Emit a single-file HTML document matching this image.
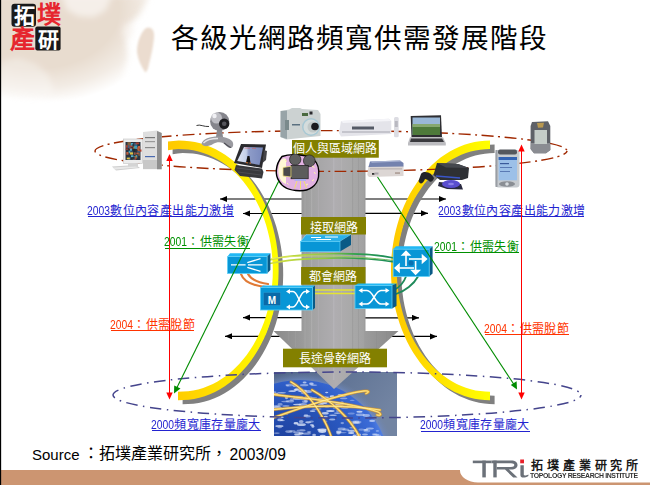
<!DOCTYPE html>
<html lang="zh-TW">
<head>
<meta charset="utf-8">
<style>
html,body{margin:0;padding:0;background:#fff;}
body{width:650px;height:485px;overflow:hidden;position:relative;font-family:"Liberation Sans",sans-serif;}
.a{position:absolute;white-space:nowrap;}
svg{position:absolute;left:0;top:0;}
.lbl{position:absolute;color:#fff;font-size:12px;line-height:12px;text-align:center;}
.t12{font-size:12px;line-height:12px;letter-spacing:0.35px;}
.d{display:inline-block;font-size:12.3px;transform:scaleX(0.84);transform-origin:0 0;margin-right:-4.2px;letter-spacing:0;}
</style>
</head>
<body>
<svg width="650" height="485" viewBox="0 0 650 485">
<defs>
  <radialGradient id="mapg" cx="0.35" cy="0.35" r="0.65">
    <stop offset="0" stop-color="#e4d2c0"/>
    <stop offset="0.55" stop-color="#ecdfd2"/>
    <stop offset="1" stop-color="#ffffff" stop-opacity="0"/>
  </radialGradient>
  <filter id="blur3" x="-20%" y="-20%" width="140%" height="140%"><feGaussianBlur stdDeviation="3"/></filter>
  <filter id="blur05"><feGaussianBlur stdDeviation="0.5"/></filter>
  <filter id="blur1"><feGaussianBlur stdDeviation="0.8"/></filter>
  <linearGradient id="fadeR" x1="0" y1="0" x2="1" y2="0">
    <stop offset="0" stop-color="#fff" stop-opacity="0"/>
    <stop offset="0.5" stop-color="#fff" stop-opacity="0.7"/>
    <stop offset="1" stop-color="#fff" stop-opacity="1"/>
  </linearGradient>
  <linearGradient id="fadeB" x1="0" y1="0" x2="0" y2="1">
    <stop offset="0" stop-color="#fff" stop-opacity="0"/>
    <stop offset="0.6" stop-color="#fff" stop-opacity="0.85"/>
    <stop offset="1" stop-color="#fff" stop-opacity="1"/>
  </linearGradient>
  <radialGradient id="mapfade" gradientUnits="userSpaceOnUse" cx="35" cy="10" r="140" gradientTransform="translate(35 10) scale(1 0.7) translate(-35 -10)">
    <stop offset="0" stop-color="#fff"/>
    <stop offset="0.6" stop-color="#fff"/>
    <stop offset="0.8" stop-color="#fff" stop-opacity="0.55"/>
    <stop offset="0.96" stop-color="#fff" stop-opacity="0"/>
  </radialGradient>
  <mask id="mapmask" maskUnits="userSpaceOnUse" x="0" y="0" width="200" height="150"><rect x="0" y="0" width="200" height="150" fill="url(#mapfade)"/></mask>
  <linearGradient id="yel" x1="0" y1="0" x2="1" y2="0">
    <stop offset="0" stop-color="#ffc800"/>
    <stop offset="1" stop-color="#ffff00"/>
  </linearGradient>
  <linearGradient id="col" gradientUnits="userSpaceOnUse" x1="273.5" y1="0" x2="398.5" y2="0">
    <stop offset="0" stop-color="#8a8a8a"/>
    <stop offset="0.22" stop-color="#999999"/>
    <stop offset="0.30" stop-color="#a2a2a2"/>
    <stop offset="0.40" stop-color="#a9a8aa"/>
    <stop offset="0.50" stop-color="#afadb0"/>
    <stop offset="0.62" stop-color="#a9a9a9"/>
    <stop offset="0.72" stop-color="#a2a2a2"/>
    <stop offset="0.73" stop-color="#9c9c9c"/>
    <stop offset="1" stop-color="#888888"/>
  </linearGradient>
  <linearGradient id="gbg" x1="0" y1="0" x2="1" y2="0.4">
    <stop offset="0" stop-color="#4f6488"/>
    <stop offset="1" stop-color="#7284a2"/>
  </linearGradient>
  <radialGradient id="glow" cx="0.5" cy="0.5" r="0.5">
    <stop offset="0.88" stop-color="#6f90d8"/>
    <stop offset="1" stop-color="#7084a8" stop-opacity="0"/>
  </radialGradient>
  <radialGradient id="gsea" cx="0.42" cy="0.42" r="0.6">
    <stop offset="0" stop-color="#1a3a94"/>
    <stop offset="0.6" stop-color="#2a58c0"/>
    <stop offset="0.85" stop-color="#3c6cd8"/>
    <stop offset="1" stop-color="#6a98f0"/>
  </radialGradient>
  <linearGradient id="cab" gradientUnits="userSpaceOnUse" x1="270" y1="0" x2="394" y2="0">
    <stop offset="0" stop-color="#d8e040"/>
    <stop offset="0.45" stop-color="#90c840"/>
    <stop offset="0.7" stop-color="#30a050"/>
    <stop offset="1" stop-color="#1a8a5a"/>
  </linearGradient>
  <linearGradient id="cab2" gradientUnits="userSpaceOnUse" x1="270" y1="0" x2="394" y2="0">
    <stop offset="0" stop-color="#f0f060"/>
    <stop offset="1" stop-color="#60b060"/>
  </linearGradient>
  <linearGradient id="fpscr" x1="0" y1="0" x2="1" y2="0">
    <stop offset="0" stop-color="#dfe6f4"/>
    <stop offset="0.35" stop-color="#c4cfe8"/>
    <stop offset="0.45" stop-color="#8e9cc8"/>
    <stop offset="1" stop-color="#7888bc"/>
  </linearGradient>
  <marker id="ab" markerWidth="8" markerHeight="8" refX="7" refY="3" orient="auto" markerUnits="userSpaceOnUse">
    <path d="M0,0 L7,3 L0,6 z" fill="#000"/>
  </marker>
</defs>

<!-- map background -->
<g id="map">
  <g mask="url(#mapmask)">
    <g filter="url(#blur3)">
      <path d="M-5,-5 L150,-5 L140,14 L130,24 L126,40 L128,58 L124,78 L116,92 L100,102 L70,102 L40,100 L10,98 L-5,96 Z" fill="#e8dccf"/>
      <path d="M62,-5 L112,-5 L106,10 L94,17 L78,16 L66,9 Z" fill="#f5efe9"/>
      <path d="M0,62 L18,58 L36,64 L48,74 L54,92 L40,97 L10,96 L0,95 Z" fill="#f0e8e0"/>
      <path d="M126,22 L134,28 L130,40 L122,34 Z" fill="#f6f0ea"/>
    </g>
  </g>
  <path d="M146,28 C151,26 155,30 154,38 C153,48 151,56 149,64 C148,70 146,73 145,72 C141,66 138,60 137,52 C137,42 141,32 146,28 Z" fill="#ebdccf" filter="url(#blur1)"/>
</g>

<!-- logo -->
<rect x="11.5" y="3.7" width="24.5" height="23" rx="3" fill="#1a1a1a"/>
<rect x="35.3" y="26.6" width="25.3" height="24" rx="2" fill="#1a1a1a"/>

<!-- black arrows (behind column) -->
<g stroke="#000" stroke-width="1.2" marker-end="url(#ab)">
  <line x1="302" y1="199" x2="220" y2="199"/>
  <line x1="302" y1="213.5" x2="243" y2="213.5"/>
  <line x1="302" y1="317.6" x2="243" y2="317.6"/>
  <line x1="285" y1="336.3" x2="225" y2="336.3"/>
  <line x1="364" y1="199" x2="446" y2="199"/>
  <line x1="364" y1="213.3" x2="428" y2="213.3"/>
  <line x1="364" y1="317.8" x2="419" y2="317.8"/>
  <line x1="385" y1="336.4" x2="437" y2="336.4"/>
</g>

<!-- yellow arcs -->
<g id="arcs">
  <path d="M168.0,141.6 L173.4,140.9 L178.7,140.6 L184.1,140.7 L189.5,141.2 L194.9,142.0 L200.2,143.3 L205.4,144.9 L210.6,146.9 L215.7,149.3 L220.6,152.0 L225.5,155.1 L230.2,158.5 L234.8,162.3 L239.2,166.4 L243.4,170.8 L247.4,175.6 L251.3,180.6 L254.9,185.8 L258.3,191.4 L261.5,197.1 L264.4,203.1 L267.0,209.3 L269.4,215.7 L271.6,222.2 L273.4,228.9 L275.0,235.7 L276.3,242.6 L277.3,249.6 L278.0,256.7 L278.5,263.8 L278.6,270.9 L278.4,278.0 L278.0,285.1 L277.2,292.2 L276.2,299.1 L274.8,306.0 L273.2,312.8 L271.3,319.5 L269.1,326.0 L266.7,332.4 L264.0,338.5 L261.0,344.5 L257.8,350.2 L254.4,355.7 L250.8,361.0 L246.9,365.9 L242.8,370.6 L238.6,375.0 L234.2,379.0 L229.6,382.8 L224.8,386.2 L220.0,389.2 L215.0,391.9 L209.9,394.2 L204.7,396.2 L199.4,397.7 L194.1,398.9 L188.8,399.7 L183.4,400.1 L178.0,400.2 L178.0,391.7 L183.1,391.6 L188.2,391.3 L193.2,390.5 L198.2,389.4 L203.2,388.0 L208.1,386.1 L212.9,384.0 L217.6,381.4 L222.2,378.6 L226.7,375.4 L231.0,371.9 L235.2,368.1 L239.2,364.0 L243.0,359.6 L246.7,354.9 L250.1,350.0 L253.3,344.9 L256.3,339.5 L259.1,333.9 L261.7,328.1 L264.0,322.2 L266.0,316.1 L267.8,309.8 L269.3,303.4 L270.6,297.0 L271.5,290.4 L272.2,283.8 L272.7,277.2 L272.8,270.5 L272.7,263.8 L272.2,257.2 L271.6,250.5 L270.6,244.0 L269.3,237.5 L267.8,231.2 L266.1,224.9 L264.0,218.8 L261.7,212.8 L259.2,207.0 L256.4,201.4 L253.4,196.1 L250.2,190.9 L246.7,186.0 L243.1,181.3 L239.3,176.9 L235.3,172.8 L231.1,169.0 L226.8,165.5 L222.3,162.3 L217.7,159.4 L213.0,156.9 L208.2,154.7 L203.3,152.9 L198.4,151.4 L193.3,150.3 L188.3,149.5 L183.2,149.2 L178.1,149.1 L173.1,149.5 L168.0,150.2 Z" fill="#808080" transform="translate(4.6,4)"/>
  <path d="M168.0,141.6 L173.4,140.9 L178.7,140.6 L184.1,140.7 L189.5,141.2 L194.9,142.0 L200.2,143.3 L205.4,144.9 L210.6,146.9 L215.7,149.3 L220.6,152.0 L225.5,155.1 L230.2,158.5 L234.8,162.3 L239.2,166.4 L243.4,170.8 L247.4,175.6 L251.3,180.6 L254.9,185.8 L258.3,191.4 L261.5,197.1 L264.4,203.1 L267.0,209.3 L269.4,215.7 L271.6,222.2 L273.4,228.9 L275.0,235.7 L276.3,242.6 L277.3,249.6 L278.0,256.7 L278.5,263.8 L278.6,270.9 L278.4,278.0 L278.0,285.1 L277.2,292.2 L276.2,299.1 L274.8,306.0 L273.2,312.8 L271.3,319.5 L269.1,326.0 L266.7,332.4 L264.0,338.5 L261.0,344.5 L257.8,350.2 L254.4,355.7 L250.8,361.0 L246.9,365.9 L242.8,370.6 L238.6,375.0 L234.2,379.0 L229.6,382.8 L224.8,386.2 L220.0,389.2 L215.0,391.9 L209.9,394.2 L204.7,396.2 L199.4,397.7 L194.1,398.9 L188.8,399.7 L183.4,400.1 L178.0,400.2 L178.0,391.7 L183.1,391.6 L188.2,391.3 L193.2,390.5 L198.2,389.4 L203.2,388.0 L208.1,386.1 L212.9,384.0 L217.6,381.4 L222.2,378.6 L226.7,375.4 L231.0,371.9 L235.2,368.1 L239.2,364.0 L243.0,359.6 L246.7,354.9 L250.1,350.0 L253.3,344.9 L256.3,339.5 L259.1,333.9 L261.7,328.1 L264.0,322.2 L266.0,316.1 L267.8,309.8 L269.3,303.4 L270.6,297.0 L271.5,290.4 L272.2,283.8 L272.7,277.2 L272.8,270.5 L272.7,263.8 L272.2,257.2 L271.6,250.5 L270.6,244.0 L269.3,237.5 L267.8,231.2 L266.1,224.9 L264.0,218.8 L261.7,212.8 L259.2,207.0 L256.4,201.4 L253.4,196.1 L250.2,190.9 L246.7,186.0 L243.1,181.3 L239.3,176.9 L235.3,172.8 L231.1,169.0 L226.8,165.5 L222.3,162.3 L217.7,159.4 L213.0,156.9 L208.2,154.7 L203.3,152.9 L198.4,151.4 L193.3,150.3 L188.3,149.5 L183.2,149.2 L178.1,149.1 L173.1,149.5 L168.0,150.2 Z" fill="url(#yel)"/>
  <path d="M490.0,140.6 L484.8,140.7 L479.7,141.2 L474.5,142.1 L469.5,143.2 L464.4,144.8 L459.5,146.7 L454.6,148.9 L449.8,151.5 L445.1,154.4 L440.6,157.6 L436.1,161.2 L431.9,165.0 L427.8,169.2 L423.8,173.6 L420.0,178.2 L416.5,183.2 L413.1,188.4 L409.9,193.8 L407.0,199.4 L404.3,205.2 L401.8,211.2 L399.6,217.3 L397.6,223.7 L395.9,230.1 L394.4,236.6 L393.2,243.3 L392.2,250.0 L391.5,256.8 L391.1,263.6 L391.0,270.4 L391.1,277.2 L391.5,284.0 L392.2,290.8 L393.2,297.5 L394.4,304.2 L395.9,310.7 L397.6,317.1 L399.6,323.5 L401.8,329.6 L404.3,335.6 L407.0,341.4 L409.9,347.0 L413.1,352.4 L416.5,357.6 L420.0,362.6 L423.8,367.2 L427.8,371.6 L431.9,375.8 L436.1,379.6 L440.6,383.2 L445.1,386.4 L449.8,389.3 L454.6,391.9 L459.5,394.1 L464.4,396.0 L469.5,397.6 L474.5,398.7 L479.7,399.6 L484.8,400.1 L490.0,400.2 L490.0,391.7 L485.1,391.6 L480.3,391.1 L475.5,390.4 L470.7,389.2 L465.9,387.8 L461.3,386.0 L456.7,383.9 L452.2,381.5 L447.8,378.8 L443.5,375.8 L439.3,372.5 L435.3,368.9 L431.4,365.0 L427.7,360.9 L424.1,356.5 L420.8,351.9 L417.6,347.1 L414.6,342.0 L411.9,336.8 L409.3,331.4 L407.0,325.7 L404.9,320.0 L403.0,314.1 L401.4,308.1 L400.0,302.0 L398.8,295.8 L398.0,289.5 L397.3,283.1 L396.9,276.8 L396.8,270.4 L396.9,264.0 L397.3,257.7 L398.0,251.3 L398.8,245.0 L400.0,238.8 L401.4,232.7 L403.0,226.7 L404.9,220.8 L407.0,215.1 L409.3,209.4 L411.9,204.0 L414.6,198.8 L417.6,193.7 L420.8,188.9 L424.1,184.3 L427.7,179.9 L431.4,175.8 L435.3,171.9 L439.3,168.3 L443.5,165.0 L447.8,162.0 L452.2,159.3 L456.7,156.9 L461.3,154.8 L465.9,153.0 L470.7,151.6 L475.5,150.4 L480.3,149.7 L485.1,149.2 L490.0,149.1 Z" fill="#808080" transform="translate(4.6,4)"/>
  <path d="M490.0,140.6 L484.8,140.7 L479.7,141.2 L474.5,142.1 L469.5,143.2 L464.4,144.8 L459.5,146.7 L454.6,148.9 L449.8,151.5 L445.1,154.4 L440.6,157.6 L436.1,161.2 L431.9,165.0 L427.8,169.2 L423.8,173.6 L420.0,178.2 L416.5,183.2 L413.1,188.4 L409.9,193.8 L407.0,199.4 L404.3,205.2 L401.8,211.2 L399.6,217.3 L397.6,223.7 L395.9,230.1 L394.4,236.6 L393.2,243.3 L392.2,250.0 L391.5,256.8 L391.1,263.6 L391.0,270.4 L391.1,277.2 L391.5,284.0 L392.2,290.8 L393.2,297.5 L394.4,304.2 L395.9,310.7 L397.6,317.1 L399.6,323.5 L401.8,329.6 L404.3,335.6 L407.0,341.4 L409.9,347.0 L413.1,352.4 L416.5,357.6 L420.0,362.6 L423.8,367.2 L427.8,371.6 L431.9,375.8 L436.1,379.6 L440.6,383.2 L445.1,386.4 L449.8,389.3 L454.6,391.9 L459.5,394.1 L464.4,396.0 L469.5,397.6 L474.5,398.7 L479.7,399.6 L484.8,400.1 L490.0,400.2 L490.0,391.7 L485.1,391.6 L480.3,391.1 L475.5,390.4 L470.7,389.2 L465.9,387.8 L461.3,386.0 L456.7,383.9 L452.2,381.5 L447.8,378.8 L443.5,375.8 L439.3,372.5 L435.3,368.9 L431.4,365.0 L427.7,360.9 L424.1,356.5 L420.8,351.9 L417.6,347.1 L414.6,342.0 L411.9,336.8 L409.3,331.4 L407.0,325.7 L404.9,320.0 L403.0,314.1 L401.4,308.1 L400.0,302.0 L398.8,295.8 L398.0,289.5 L397.3,283.1 L396.9,276.8 L396.8,270.4 L396.9,264.0 L397.3,257.7 L398.0,251.3 L398.8,245.0 L400.0,238.8 L401.4,232.7 L403.0,226.7 L404.9,220.8 L407.0,215.1 L409.3,209.4 L411.9,204.0 L414.6,198.8 L417.6,193.7 L420.8,188.9 L424.1,184.3 L427.7,179.9 L431.4,175.8 L435.3,171.9 L439.3,168.3 L443.5,165.0 L447.8,162.0 L452.2,159.3 L456.7,156.9 L461.3,154.8 L465.9,153.0 L470.7,151.6 L475.5,150.4 L480.3,149.7 L485.1,149.2 L490.0,149.1 Z" fill="url(#yel)"/>
</g>

<!-- globe image -->
<g id="globe">
  <clipPath id="gclip"><rect x="274" y="372" width="123" height="64"/></clipPath>
  <g clip-path="url(#gclip)">
    <rect x="274" y="372" width="123" height="64" fill="url(#gbg)"/>
    <circle cx="300" cy="470" r="98" fill="url(#glow)"/>
    <circle cx="300" cy="470" r="90" fill="url(#gsea)"/>
    <g fill="#dfe8fa" filter="url(#blur05)"><ellipse cx="313.8" cy="385.1" rx="3.5" ry="0.7" opacity="0.62"/><ellipse cx="285.2" cy="401.5" rx="4.0" ry="0.7" opacity="0.46"/><ellipse cx="351.2" cy="432.9" rx="3.2" ry="1.0" opacity="0.84"/><ellipse cx="279.7" cy="427.5" rx="2.4" ry="0.7" opacity="0.41"/><ellipse cx="311.9" cy="425.0" rx="2.0" ry="1.1" opacity="0.67"/><ellipse cx="319.8" cy="408.9" rx="1.7" ry="0.7" opacity="0.45"/><ellipse cx="312.6" cy="411.1" rx="2.9" ry="0.9" opacity="0.75"/><ellipse cx="344.7" cy="407.5" rx="4.1" ry="1.3" opacity="0.49"/><ellipse cx="325.4" cy="421.4" rx="2.0" ry="1.0" opacity="0.37"/><ellipse cx="356.2" cy="421.9" rx="3.2" ry="1.4" opacity="0.51"/><ellipse cx="359.5" cy="411.7" rx="3.2" ry="1.0" opacity="0.77"/><ellipse cx="360.3" cy="414.8" rx="4.5" ry="1.3" opacity="0.49"/><ellipse cx="321.5" cy="416.1" rx="1.6" ry="1.0" opacity="0.43"/><ellipse cx="304.5" cy="399.5" rx="4.1" ry="0.7" opacity="0.57"/><ellipse cx="341.6" cy="429.0" rx="4.0" ry="1.4" opacity="0.49"/><ellipse cx="325.1" cy="397.5" rx="4.2" ry="1.5" opacity="0.43"/><ellipse cx="295.7" cy="389.9" rx="2.2" ry="1.0" opacity="0.64"/><ellipse cx="325.5" cy="398.2" rx="3.2" ry="1.5" opacity="0.70"/><ellipse cx="337.4" cy="413.1" rx="3.5" ry="0.6" opacity="0.80"/><ellipse cx="369.9" cy="428.5" rx="3.9" ry="1.0" opacity="0.55"/><ellipse cx="286.7" cy="414.1" rx="1.7" ry="0.7" opacity="0.45"/><ellipse cx="294.0" cy="396.4" rx="1.7" ry="0.6" opacity="0.43"/><ellipse cx="286.5" cy="397.8" rx="1.6" ry="1.4" opacity="0.66"/><ellipse cx="292.3" cy="391.1" rx="2.5" ry="0.9" opacity="0.41"/><ellipse cx="378.4" cy="435.6" rx="2.9" ry="1.0" opacity="0.39"/><ellipse cx="286.6" cy="396.6" rx="2.3" ry="1.3" opacity="0.43"/><ellipse cx="276.8" cy="433.1" rx="3.1" ry="0.7" opacity="0.62"/><ellipse cx="277.3" cy="407.7" rx="4.4" ry="1.4" opacity="0.70"/><ellipse cx="306.1" cy="398.0" rx="2.0" ry="1.3" opacity="0.62"/><ellipse cx="301.4" cy="424.7" rx="4.5" ry="1.4" opacity="0.75"/><ellipse cx="301.9" cy="407.1" rx="2.6" ry="0.6" opacity="0.36"/><ellipse cx="308.4" cy="391.6" rx="3.6" ry="1.5" opacity="0.57"/><ellipse cx="301.1" cy="389.6" rx="2.1" ry="0.8" opacity="0.66"/><ellipse cx="333.0" cy="415.2" rx="3.9" ry="0.7" opacity="0.68"/><ellipse cx="296.0" cy="423.3" rx="2.5" ry="1.3" opacity="0.84"/><ellipse cx="322.7" cy="400.1" rx="4.3" ry="1.3" opacity="0.44"/><ellipse cx="289.6" cy="385.1" rx="4.2" ry="1.3" opacity="0.42"/><ellipse cx="375.7" cy="434.8" rx="3.5" ry="0.9" opacity="0.62"/><ellipse cx="338.8" cy="432.0" rx="2.8" ry="1.4" opacity="0.76"/><ellipse cx="300.0" cy="391.1" rx="2.4" ry="0.8" opacity="0.64"/><ellipse cx="305.9" cy="401.1" rx="1.9" ry="1.4" opacity="0.53"/><ellipse cx="330.4" cy="411.0" rx="4.2" ry="1.0" opacity="0.81"/><ellipse cx="335.7" cy="407.9" rx="3.1" ry="0.6" opacity="0.57"/><ellipse cx="332.2" cy="419.5" rx="3.2" ry="0.9" opacity="0.61"/><ellipse cx="342.3" cy="423.1" rx="1.8" ry="1.1" opacity="0.47"/><ellipse cx="308.1" cy="422.3" rx="3.0" ry="1.1" opacity="0.73"/><ellipse cx="349.3" cy="406.3" rx="3.0" ry="1.2" opacity="0.58"/><ellipse cx="339.6" cy="404.7" rx="4.3" ry="1.2" opacity="0.79"/><ellipse cx="342.8" cy="432.6" rx="4.0" ry="0.7" opacity="0.41"/><ellipse cx="356.3" cy="423.0" rx="4.2" ry="0.7" opacity="0.71"/><ellipse cx="301.0" cy="433.2" rx="2.7" ry="1.0" opacity="0.84"/><ellipse cx="327.1" cy="406.9" rx="2.5" ry="0.8" opacity="0.51"/><ellipse cx="342.1" cy="402.4" rx="1.6" ry="0.9" opacity="0.66"/><ellipse cx="289.9" cy="401.3" rx="4.2" ry="1.3" opacity="0.48"/><ellipse cx="292.4" cy="431.2" rx="3.2" ry="1.2" opacity="0.39"/><ellipse cx="281.1" cy="417.3" rx="2.8" ry="0.7" opacity="0.82"/><ellipse cx="352.0" cy="424.1" rx="1.8" ry="1.4" opacity="0.38"/><ellipse cx="315.7" cy="409.2" rx="4.3" ry="0.8" opacity="0.41"/><ellipse cx="287.5" cy="385.7" rx="1.7" ry="0.8" opacity="0.51"/><ellipse cx="311.5" cy="421.6" rx="2.4" ry="1.1" opacity="0.44"/><ellipse cx="297.3" cy="404.5" rx="4.3" ry="0.7" opacity="0.76"/><ellipse cx="327.2" cy="405.7" rx="4.0" ry="1.0" opacity="0.60"/><ellipse cx="358.6" cy="434.9" rx="2.5" ry="1.3" opacity="0.70"/><ellipse cx="352.2" cy="400.3" rx="2.5" ry="0.6" opacity="0.41"/><ellipse cx="282.7" cy="420.5" rx="2.3" ry="0.7" opacity="0.39"/><ellipse cx="303.8" cy="393.6" rx="2.9" ry="0.7" opacity="0.57"/><ellipse cx="306.4" cy="433.7" rx="4.4" ry="1.1" opacity="0.47"/><ellipse cx="320.9" cy="404.5" rx="3.0" ry="0.8" opacity="0.60"/><ellipse cx="274.6" cy="391.9" rx="1.8" ry="1.0" opacity="0.37"/><ellipse cx="276.8" cy="394.3" rx="2.2" ry="1.1" opacity="0.61"/><ellipse cx="366.3" cy="415.5" rx="3.6" ry="1.4" opacity="0.54"/><ellipse cx="314.1" cy="435.1" rx="1.9" ry="1.3" opacity="0.67"/><ellipse cx="279.4" cy="426.1" rx="4.2" ry="1.2" opacity="0.72"/><ellipse cx="338.4" cy="406.3" rx="4.0" ry="1.3" opacity="0.76"/><ellipse cx="345.8" cy="429.6" rx="3.5" ry="1.2" opacity="0.46"/><ellipse cx="351.2" cy="413.6" rx="3.5" ry="1.0" opacity="0.35"/><ellipse cx="372.1" cy="420.9" rx="3.0" ry="1.1" opacity="0.68"/><ellipse cx="282.1" cy="420.2" rx="2.3" ry="0.7" opacity="0.48"/><ellipse cx="365.0" cy="434.5" rx="3.0" ry="0.9" opacity="0.59"/><ellipse cx="358.1" cy="422.0" rx="3.4" ry="1.2" opacity="0.39"/><ellipse cx="292.1" cy="391.2" rx="3.7" ry="0.9" opacity="0.63"/><ellipse cx="307.1" cy="416.3" rx="3.6" ry="1.2" opacity="0.50"/><ellipse cx="337.5" cy="403.9" rx="2.9" ry="0.7" opacity="0.80"/><ellipse cx="298.5" cy="434.7" rx="4.3" ry="0.6" opacity="0.58"/><ellipse cx="374.8" cy="434.1" rx="2.8" ry="0.8" opacity="0.45"/><ellipse cx="338.5" cy="433.2" rx="1.9" ry="1.3" opacity="0.60"/><ellipse cx="302.5" cy="429.9" rx="3.0" ry="0.6" opacity="0.35"/><ellipse cx="334.5" cy="403.0" rx="2.4" ry="0.7" opacity="0.52"/><ellipse cx="312.9" cy="426.4" rx="1.5" ry="1.3" opacity="0.77"/><ellipse cx="288.8" cy="431.6" rx="3.6" ry="1.4" opacity="0.49"/><ellipse cx="319.8" cy="399.6" rx="4.5" ry="1.1" opacity="0.53"/><ellipse cx="326.7" cy="392.5" rx="1.6" ry="0.7" opacity="0.77"/><ellipse cx="309.1" cy="432.1" rx="2.2" ry="0.8" opacity="0.61"/><ellipse cx="297.4" cy="398.4" rx="4.4" ry="1.4" opacity="0.76"/><ellipse cx="351.6" cy="430.8" rx="4.3" ry="1.1" opacity="0.71"/><ellipse cx="280.1" cy="419.9" rx="2.9" ry="1.3" opacity="0.67"/><ellipse cx="332.1" cy="396.6" rx="2.4" ry="1.3" opacity="0.84"/><ellipse cx="306.0" cy="415.4" rx="2.4" ry="1.1" opacity="0.55"/><ellipse cx="294.6" cy="385.7" rx="2.1" ry="1.4" opacity="0.60"/><ellipse cx="301.1" cy="430.4" rx="4.5" ry="1.0" opacity="0.42"/><ellipse cx="303.4" cy="391.5" rx="3.2" ry="1.4" opacity="0.72"/><ellipse cx="324.8" cy="400.8" rx="3.1" ry="0.9" opacity="0.52"/><ellipse cx="281.6" cy="392.7" rx="4.4" ry="0.7" opacity="0.60"/><ellipse cx="351.4" cy="427.8" rx="2.1" ry="0.8" opacity="0.47"/><ellipse cx="323.2" cy="402.8" rx="4.4" ry="1.4" opacity="0.79"/><ellipse cx="361.3" cy="429.7" rx="2.9" ry="1.1" opacity="0.35"/><ellipse cx="322.2" cy="431.6" rx="4.0" ry="1.4" opacity="0.84"/><ellipse cx="304.6" cy="382.5" rx="2.0" ry="1.1" opacity="0.69"/><ellipse cx="353.6" cy="421.9" rx="2.9" ry="1.1" opacity="0.37"/><ellipse cx="311.4" cy="383.7" rx="2.3" ry="1.2" opacity="0.70"/><ellipse cx="338.5" cy="411.0" rx="2.7" ry="0.8" opacity="0.65"/><ellipse cx="275.3" cy="394.1" rx="2.9" ry="1.5" opacity="0.67"/><ellipse cx="302.9" cy="390.8" rx="4.4" ry="1.2" opacity="0.50"/><ellipse cx="276.7" cy="405.9" rx="3.5" ry="1.0" opacity="0.48"/><ellipse cx="356.1" cy="431.5" rx="2.2" ry="0.6" opacity="0.52"/><ellipse cx="325.7" cy="417.0" rx="2.1" ry="1.3" opacity="0.72"/><ellipse cx="301.2" cy="421.6" rx="2.4" ry="1.5" opacity="0.60"/><ellipse cx="297.0" cy="389.4" rx="2.8" ry="1.2" opacity="0.82"/><ellipse cx="292.0" cy="399.6" rx="2.1" ry="1.5" opacity="0.42"/><ellipse cx="322.4" cy="429.9" rx="4.2" ry="1.3" opacity="0.85"/><ellipse cx="296.8" cy="432.2" rx="3.7" ry="0.6" opacity="0.68"/><ellipse cx="320.6" cy="398.4" rx="2.5" ry="0.8" opacity="0.35"/><ellipse cx="308.4" cy="397.1" rx="4.4" ry="0.7" opacity="0.83"/><ellipse cx="299.5" cy="397.4" rx="4.0" ry="1.3" opacity="0.57"/><ellipse cx="280.1" cy="404.4" rx="2.6" ry="1.4" opacity="0.45"/><ellipse cx="318.8" cy="429.8" rx="1.6" ry="1.0" opacity="0.76"/><ellipse cx="365.9" cy="429.9" rx="2.5" ry="0.8" opacity="0.83"/><ellipse cx="366.9" cy="431.0" rx="3.4" ry="1.4" opacity="0.36"/><ellipse cx="302.8" cy="404.5" rx="4.4" ry="1.5" opacity="0.54"/><ellipse cx="304.9" cy="401.8" rx="3.0" ry="1.4" opacity="0.44"/><ellipse cx="313.3" cy="397.7" rx="3.8" ry="0.7" opacity="0.45"/><ellipse cx="342.0" cy="395.5" rx="4.4" ry="1.4" opacity="0.84"/><ellipse cx="285.9" cy="405.9" rx="3.6" ry="1.0" opacity="0.47"/><ellipse cx="325.3" cy="413.2" rx="3.5" ry="1.3" opacity="0.77"/><ellipse cx="343.7" cy="398.4" rx="3.7" ry="0.8" opacity="0.47"/><ellipse cx="304.2" cy="385.2" rx="4.2" ry="1.1" opacity="0.51"/><ellipse cx="322.7" cy="435.5" rx="3.0" ry="0.8" opacity="0.75"/><ellipse cx="354.4" cy="435.5" rx="1.8" ry="1.0" opacity="0.76"/><ellipse cx="377.4" cy="430.9" rx="1.6" ry="0.9" opacity="0.41"/><ellipse cx="297.3" cy="434.4" rx="3.2" ry="1.4" opacity="0.54"/></g>
    <g fill="none" stroke="#d89020" stroke-width="3.2" stroke-linecap="round" opacity="0.55"><path d="M291,382 C303,388 322,410 331,436"/><path d="M270,394 C300,398 350,402 378,412 C382,414 381,416 377,415"/><path d="M270,419 C300,408 340,394 364,391 C369,390.5 370,392 366,393.5"/><path d="M270,410 C310,405 350,405 380,410"/><path d="M312,390 C330,400 350,418 359,436"/></g>
    <g fill="none" stroke="#f4c040" stroke-width="1.8" stroke-linecap="round"><path d="M291,382 C303,388 322,410 331,436"/><path d="M270,394 C300,398 350,402 378,412 C382,414 381,416 377,415"/><path d="M270,419 C300,408 340,394 364,391 C369,390.5 370,392 366,393.5"/><path d="M270,410 C310,405 350,405 380,410"/><path d="M312,390 C330,400 350,418 359,436"/></g>
    <g fill="none" stroke="#fff4b0" stroke-width="0.7" stroke-linecap="round"><path d="M291,382 C303,388 322,410 331,436"/><path d="M270,394 C300,398 350,402 378,412 C382,414 381,416 377,415"/><path d="M270,419 C300,408 340,394 364,391 C369,390.5 370,392 366,393.5"/><path d="M270,410 C310,405 350,405 380,410"/><path d="M312,390 C330,400 350,418 359,436"/></g>
  </g>
</g>

<!-- gray column + arrowhead -->
<rect x="301.5" y="150" width="64" height="182" fill="url(#col)"/>
<path d="M273.5,331 L398.5,331 L334,389 Z" fill="url(#col)"/>
<g opacity="0.35">
  <rect x="304.5" y="150" width="1" height="200" fill="#b8b8b8"/>
  <rect x="311" y="150" width="1.2" height="210" fill="#c0c0c0"/>
  <rect x="318" y="150" width="1" height="220" fill="#b8b4ba"/>
  <rect x="333" y="150" width="1.5" height="230" fill="#c4c0c6"/>
  <rect x="341" y="150" width="1" height="220" fill="#bcbcbc"/>
  <rect x="352" y="150" width="1.2" height="210" fill="#8e8e8e"/>
  <rect x="358" y="150" width="1" height="200" fill="#929292"/>
  <rect x="288" y="331" width="1" height="10" fill="#a0a0a0"/>
  <rect x="295" y="331" width="1" height="16" fill="#a6a6a6"/>
  <rect x="376" y="331" width="1" height="18" fill="#8c8c8c"/>
  <rect x="386" y="331" width="1" height="10" fill="#8c8c8c"/>
</g>


<!-- label boxes -->
<g fill="#838000">
  <rect x="292" y="140" width="86.8" height="17.7"/>
  <rect x="301" y="217" width="65" height="17.5"/>
  <rect x="301.1" y="267" width="64.4" height="17.7"/>
  <rect x="283" y="348.7" width="104" height="18.6"/>
</g>
<!-- cables -->
<g fill="none" stroke-linecap="round">
  <path d="M241,274 C244,283 256,286 266,287" stroke="#e07a36" stroke-width="2.2"/>
  <path d="M248,274 C252,281 260,283 268,284" stroke="#e07a36" stroke-width="2.2"/>
  <path d="M270,260 C295,253 360,251 394,258" stroke="url(#cab)" stroke-width="1.7"/>
  <path d="M270,263.5 C300,257 360,256 394,262" stroke="url(#cab)" stroke-width="1.7"/>
  <path d="M271,258.5 C300,254.5 350,255 393,260.5" stroke="url(#cab2)" stroke-width="1"/>
  <path d="M406,276.5 C404,282 400,287 394,290" stroke="#1f8a5a" stroke-width="1.8"/>
  <path d="M418,276.5 C414,284 405,291 396,294" stroke="#1f8a5a" stroke-width="1.8"/>
  <path d="M315,290 L355,290" stroke="#e4e430" stroke-width="1.5"/>
  <path d="M315,293.5 L355,293.5" stroke="#e4e430" stroke-width="1.5"/>
</g>
<!-- network icons -->
<g id="hub">
  <path d="M230,253.2 L270.4,253.2 L267.1,256.6 L227.5,256.6 Z" fill="#22b8f4"/>
  <path d="M267.1,256.6 L270.4,253.2 L270.4,270 L267.1,273.5 Z" fill="#0a5a86"/>
  <rect x="227.5" y="256.6" width="39.6" height="16.9" fill="#0896d6" stroke="#5ccff8" stroke-width="0.8"/>
  <path d="M231,264.8 L245.6,264.8 M248,264.8 L262.5,264.8 M247.3,262.6 L260.5,258.6 M247.3,267.3 L260.5,271.4" stroke="#fff" stroke-width="1.3"/>
</g>
<g id="accsw">
  <path d="M306,234.8 L351,234.8 L340,241.6 L300.5,241.6 Z" fill="#2ab0ea" stroke="#8ee0ff" stroke-width="0.6"/>
  <path d="M340,241.6 L351,234.8 L351,245 L340,251.5 Z" fill="#0a5a86"/>
  <rect x="300.5" y="241.6" width="39.5" height="9.9" fill="#0896d6" stroke="#5ccff8" stroke-width="0.7"/>
  <path d="M311,237.5 L321,237.5 M325,237 L338,237 M316,239.5 L331,239.5" stroke="#fff" stroke-width="1.1"/>
</g>
<g id="router">
  <path d="M396,246.3 L432.6,246.3 L429.2,249.2 L393.2,249.2 Z" fill="#22b8f4"/>
  <path d="M429.2,249.2 L432.6,246.3 L432.6,273.5 L429.2,276.4 Z" fill="#0a5a86"/>
  <rect x="393.2" y="249.2" width="36" height="27.2" fill="#0896d6" stroke="#5ccff8" stroke-width="0.8"/>
  <g stroke="#fff" stroke-width="1.6" fill="#fff">
    <path d="M406,266 L406,254" /><path d="M402.5,255 L406,251.4 L409.5,255 Z"/>
    <path d="M409,259 L423.5,259"/><path d="M422.5,255.5 L426.4,259 L422.5,262.5 Z"/>
    <path d="M414,268 L398,268"/><path d="M399,264.5 L395.2,268 L399,271.5 Z"/>
    <path d="M415.6,261 L415.6,271"/><path d="M412.1,270.5 L415.6,274 L419.1,270.5 Z"/>
  </g>
  <circle cx="411" cy="263" r="2.6" fill="#0a70b0"/>
</g>
<g id="msw">
  <path d="M263,285.5 L315,285.5 L312.5,287.5 L260.5,287.5 Z" fill="#22b8f4"/>
  <path d="M312.5,287.5 L315,285.5 L315,308 L312.5,310 Z" fill="#0a5a86"/>
  <rect x="260.5" y="287.5" width="52" height="22.5" fill="#0896d6" stroke="#5ccff8" stroke-width="0.8"/>
  <rect x="263.5" y="292.5" width="17" height="13" fill="#0a6aa8" stroke="#4ab0e0" stroke-width="0.5" stroke-dasharray="1 1"/>
  <text x="272" y="303.5" font-family="Liberation Sans" font-weight="bold" font-size="10" fill="#fff" text-anchor="middle">M</text>
  <g stroke="#fff" stroke-width="1.5" fill="none">
    <path d="M288,291.5 L293,291.5 C298,291.5 300,307 305,307 L308,307"/>
    <path d="M288,307 L293,307 C298,307 300,291.5 305,291.5 L308,291.5"/>
  </g>
  <g fill="#fff">
    <path d="M286,291.5 L290,289 L290,294 Z"/><path d="M310,291.5 L306,289 L306,294 Z"/>
    <path d="M286,307 L290,304.5 L290,309.5 Z"/><path d="M310,307 L306,304.5 L306,309.5 Z"/>
  </g>
</g>
<g id="rsw">
  <path d="M358,283.5 L396.5,283.5 L392,285.5 L355,285.5 Z" fill="#22b8f4"/>
  <path d="M392,285.5 L396.5,283.5 L396.5,306 L392,308.5 Z" fill="#0a5a86"/>
  <rect x="355" y="285.5" width="37" height="23" fill="#0896d6" stroke="#5ccff8" stroke-width="0.8"/>
  <g stroke="#fff" stroke-width="1.5" fill="none">
    <path d="M361,290.5 L367,290.5 C373,290.5 375,304 381,304 L387,304"/>
    <path d="M361,304 L367,304 C373,304 375,290.5 381,290.5 L387,290.5"/>
  </g>
  <g fill="#fff">
    <path d="M358.5,290.5 L362.5,288 L362.5,293 Z"/><path d="M389.5,290.5 L385.5,288 L385.5,293 Z"/>
    <path d="M358.5,304 L362.5,301.5 L362.5,306.5 Z"/><path d="M389.5,304 L385.5,301.5 L385.5,306.5 Z"/>
  </g>
</g>

<!-- ellipses -->
<ellipse cx="331" cy="151" rx="236" ry="20.4" fill="none" stroke="#a02800" stroke-width="1.4" stroke-dasharray="12 4.5 2 4.5" stroke-dashoffset="6.85"/>
<ellipse cx="347" cy="395" rx="234" ry="23" fill="none" stroke="#44448c" stroke-width="1.5" stroke-dasharray="11.5 5.5 1.5 5.5" stroke-dashoffset="8.6"/>


<!-- devices -->
<g id="pc">
  <path d="M112,166.5 L136,165 L140,168 L116,170.5 Z" fill="#cfcfcf"/>
  <path d="M113,167.5 L136,166 L138,167.5 L115,169.5 Z" fill="#e8e8e8"/>
  <rect x="123.5" y="139" width="19" height="24.5" fill="#ececec" stroke="#c4c4c4" stroke-width="0.6"/>
  <rect x="125.5" y="142" width="15" height="18" fill="#2a3440"/>
  <rect x="128.6" y="150.7" width="1.9" height="2.5" fill="#3aa0c0"/><rect x="133.4" y="156.5" width="2.2" height="2.4" fill="#e0c040"/><rect x="138.4" y="149.5" width="3.1" height="2.2" fill="#b04030"/><rect x="128.5" y="144.4" width="3.3" height="2.0" fill="#d09030"/><rect x="134.2" y="143.0" width="2.9" height="2.5" fill="#406080"/><rect x="135.6" y="155.2" width="1.7" height="2.5" fill="#50b0d0"/><rect x="134.8" y="156.7" width="2.0" height="3.0" fill="#202830"/><rect x="138.0" y="144.1" width="1.9" height="1.1" fill="#202830"/><rect x="128.3" y="157.4" width="2.1" height="2.6" fill="#406080"/><rect x="131.0" y="155.3" width="2.4" height="2.3" fill="#50b0d0"/><rect x="133.1" y="156.5" width="2.7" height="3.3" fill="#406080"/><rect x="138.4" y="152.7" width="1.4" height="3.2" fill="#806040"/><rect x="137.3" y="151.1" width="2.8" height="1.5" fill="#406080"/><rect x="129.2" y="143.0" width="3.1" height="3.5" fill="#3aa0c0"/><rect x="130.0" y="143.1" width="3.2" height="1.1" fill="#50b0d0"/><rect x="135.5" y="156.0" width="1.1" height="2.5" fill="#d09030"/><rect x="130.4" y="151.4" width="2.4" height="3.3" fill="#406080"/><rect x="132.1" y="158.0" width="1.8" height="1.2" fill="#806040"/><rect x="125.9" y="145.2" width="2.0" height="2.5" fill="#b04030"/><rect x="134.5" y="157.7" width="1.8" height="1.9" fill="#b04030"/><rect x="137.2" y="148.0" width="2.2" height="2.3" fill="#806040"/><rect x="126.8" y="157.6" width="3.0" height="1.7" fill="#e0c040"/><rect x="137.7" y="149.0" width="1.6" height="1.8" fill="#c06040"/><rect x="125.6" y="148.6" width="2.4" height="1.1" fill="#b04030"/><rect x="126.3" y="152.0" width="2.2" height="2.7" fill="#c06040"/><rect x="133.4" y="146.5" width="2.2" height="2.5" fill="#d09030"/><rect x="138.0" y="146.0" width="2.1" height="2.5" fill="#c06040"/><rect x="127.8" y="145.0" width="2.9" height="3.1" fill="#406080"/><rect x="129.4" y="148.0" width="2.9" height="1.1" fill="#b04030"/><rect x="129.5" y="145.6" width="3.0" height="1.6" fill="#b04030"/><rect x="134.3" y="152.4" width="1.2" height="2.5" fill="#c06040"/><rect x="134.3" y="145.6" width="3.0" height="3.4" fill="#3aa0c0"/><rect x="129.9" y="152.4" width="3.2" height="2.1" fill="#e0c040"/><rect x="135.7" y="142.5" width="3.4" height="1.8" fill="#b04030"/><rect x="136.7" y="147.4" width="3.1" height="1.2" fill="#c06040"/><rect x="133.2" y="148.7" width="2.3" height="3.1" fill="#202830"/><rect x="130.0" y="148.7" width="2.0" height="2.0" fill="#50b0d0"/><rect x="127.5" y="142.1" width="3.4" height="3.2" fill="#806040"/><rect x="131.1" y="157.2" width="3.3" height="1.6" fill="#202830"/><rect x="136.4" y="152.6" width="2.3" height="1.7" fill="#c06040"/>
  <rect x="128" y="163.5" width="10" height="3" fill="#d4d4d4"/>
  <path d="M143,132 L157,130.5 L161.7,133 L161.7,169.3 L143,169.3 Z" fill="#dedede"/>
  <path d="M157,131 L161.7,133 L161.7,169.3 L157,169.3 Z" fill="#8e8e8e"/>
  <rect x="145" y="137" width="10" height="1.2" fill="#7a7a7a"/>
  <rect x="145" y="141" width="10" height="1.2" fill="#9a9a9a"/>
  <rect x="145" y="147" width="10" height="1.2" fill="#8a8a8a"/>
  <rect x="145" y="156" width="10" height="1.2" fill="#4a6ab0"/>
  <rect x="143" y="160" width="14" height="9" fill="#c8c8c8"/>
</g>
<g id="webcam">
  <path d="M196.5,125.5 C200,124 204,127 209,126.5" stroke="#222" stroke-width="0.9" fill="none"/>
  <path d="M217,130 L216,137 L223,137 L222,130 Z" fill="#8a8a90"/>
  <path d="M201.5,143.5 C203,139 210,136.5 218,136.5 C224,136.5 229,138 232,141 C234,143.5 233.5,147.5 231,148 C228,148.5 226,145 223,143 C220,141.5 216,142 213,144 C209,146.5 203,147.5 201.5,143.5 Z" fill="#9a9aa0"/>
  <path d="M203.5,143 C206,140 212,138.5 218,138.5" stroke="#e4e4e8" stroke-width="1.3" fill="none"/>
  <path d="M224,143 C227,145 229,147 231,147.5" stroke="#505058" stroke-width="1.2" fill="none"/>
  <circle cx="219.7" cy="121.5" r="9.6" fill="#85858c"/>
  <circle cx="216.5" cy="118" r="5.5" fill="#c4c4ca" opacity="0.9"/>
  <circle cx="214.5" cy="116" r="2.2" fill="#f0f0f4"/>
  <circle cx="224.2" cy="123.8" r="5.2" fill="#1c1c20"/>
  <circle cx="224.2" cy="123.8" r="2.3" fill="#55555c"/>
</g>
<g id="flatpanel">
  <path d="M236,165 L262,168.5 L263.5,172 L262,178.5 L240,176 L234.5,170 Z" fill="#38383c"/>
  <path d="M237,168 L261,171 M238,172 L261,175" stroke="#55555a" stroke-width="0.7"/>
  <path d="M241,144 L266,144.5 L262,168 L234,163 Z" fill="#2a2a2e"/>
  <path d="M244,147 L263,147.5 L259.5,165 L237.2,161 Z" fill="url(#fpscr)"/>
  <path d="M247.5,156 L249.5,156 L250.5,163 L246,162.5 Z" fill="#111"/>
  <path d="M246,162.5 L248,163 M249.5,163 L251,163.2" stroke="#e07020" stroke-width="0.9"/>
  <path d="M244.5,148 L250,148.2 M252,148.3 L256,148.4" stroke="#d06060" stroke-width="0.6"/>
  <path d="M264,150 L267,151 L266,160 L262.5,163 Z" fill="#444448"/>
</g>
<g id="digicam">
  <path d="M281,111 L289,109.5 L292,108 L300,108 L302,109 L318,110 L320.5,114 L320.5,136 L286,139.6 L280.5,137 Z" fill="#ccd2d2"/>
  <path d="M280.5,111 L287,110.5 L287,139 L280.5,137 Z" fill="#98a4a8"/>
  <rect x="285" y="120" width="4" height="10" fill="#7a8a8c"/>
  <circle cx="311" cy="127" r="9" fill="#a8c8d4"/>
  <circle cx="311" cy="127" r="7.5" fill="#d4dcdc"/>
  <circle cx="313" cy="127" r="5.5" fill="#c0c8c8"/>
  <circle cx="315" cy="126.5" r="3.8" fill="#1a1a1e"/>
  <rect x="302" y="113" width="6" height="3" fill="#4a6a40"/>
  <rect x="309.5" y="111.5" width="3" height="3" fill="#2a2a2e"/>
  <rect x="292" y="124" width="8" height="1.5" fill="#5a7080"/>
</g>
<g id="dvd">
  <path d="M341,121 L389,118.8 L391.3,121 L391.3,134 L341,136.4 L339,133 Z" fill="#e4e4ea"/>
  <path d="M341,121 L389,118.8 L391,121 L343,123 Z" fill="#f4f4f8"/>
  <rect x="352" y="126.5" width="22" height="3" fill="#555a66"/>
  <rect x="342" y="131" width="48" height="2" fill="#c4c4cc"/>
  <rect x="394" y="117" width="4.7" height="20.3" rx="1.5" fill="#dcdce2"/>
  <rect x="394.8" y="121" width="3" height="6" fill="#b8b8c0"/>
</g>
<g id="laptop">
  <path d="M410.7,116 L441,115.2 L442,137.3 L411.5,137.3 Z" fill="#2e2e32"/>
  <rect x="412.5" y="117.5" width="27.5" height="17.5" fill="#9ab8d8"/>
  <rect x="412.5" y="126" width="27.5" height="9" fill="#4e7a3a"/>
  <rect x="412.5" y="124" width="27.5" height="3" fill="#86a870"/>
  <path d="M410,137.3 L443,137.3 L445.8,143 L445.8,145.6 L408,145.6 L408,143 Z" fill="#bcbcc0"/>
  <path d="M411,138.5 L442,138.5 L444,142 L410,142 Z" fill="#3a3a3e"/>
</g>
<g id="filmcam">
  <path d="M282,156.5 C290,153.5 305,154 313,159 C318,163 319.5,170 318.5,177 C317,186 309,191 299.5,190.8 C290,190.5 282,187 279,181 C275,175 275,165 282,156.5 Z" fill="#e2b2e2" stroke="#000" stroke-width="1.4"/>
  <path d="M281,160 C283,158 285,158 286,159 L286,184 C283,183 280,180 279,176 C277.5,170 278.5,164 281,160 Z" fill="#fff8d6"/>
  <circle cx="295.2" cy="159.5" r="5.7" fill="#606060" stroke="#111" stroke-width="0.6"/>
  <circle cx="309.3" cy="160.8" r="5.9" fill="#606060" stroke="#111" stroke-width="0.6"/>
  <rect x="291" y="165.3" width="17.2" height="13.5" fill="#5c5c5c" stroke="#111" stroke-width="0.6"/>
  <path d="M283,167.5 L291,166.2 L291,177 L283,176 Z" fill="#4a4a4a" stroke="#f0e080" stroke-width="0.8"/>
  <rect x="294.5" y="179" width="11.5" height="1.8" fill="#a8b0f0"/>
  <path d="M297,181 L294.5,188.5 M300.5,181 L300.5,189 M304,181 L306.5,188" stroke="#f0e070" stroke-width="1"/>
  <g stroke="#fff7a8" stroke-width="1" fill="none">
    <path d="M285,160 l2,1.5 M312,166 l2.5,1.5 M314,172 l1.5,2 M312,181 l2,-1.5 M287,183 l1.5,1.5 M306,185 l2,-1"/>
  </g>
</g>
<g id="extdrive">
  <path d="M368.5,166 L403.5,166 L403.5,176 L369,177 L367.3,175 Z" fill="#dcd6d4"/>
  <path d="M370,161.5 L400,160.4 L403.5,163 L403.5,166.5 L368.5,167 Z" fill="#7482ae"/>
  <path d="M370,161.5 L400,160.4 L401.5,161.5 L372,162.8 Z" fill="#a8b2d2"/>
  <rect x="370" y="168.5" width="32" height="0.8" fill="#a8a0a0"/>
  <rect x="372" y="173" width="2.5" height="1.8" fill="#333"/>
  <rect x="374.5" y="172.5" width="4" height="2" fill="#a8a4a8"/>
  <rect x="395" y="172.3" width="5" height="1.5" fill="#a89890"/>
</g>
<g id="console">
  <path d="M439,182 L461,184 L463,189.5 L447,189 L438,186 Z" fill="#2a2a40"/>
  <ellipse cx="451" cy="184" rx="9" ry="4" fill="#5a4ed0"/>
  <ellipse cx="451" cy="184" rx="3" ry="1.3" fill="#8a80e8"/>
  <path d="M437,163 L458,164 L469,168 L468,178 L462,180 L440,180 L433.5,175 Z" fill="#2e3034"/>
  <path d="M437,163 L458,164 L469,168 L446,167.5 Z" fill="#45484e"/>
  <path d="M436,176 L460,178" stroke="#3a56c8" stroke-width="1.5"/>
  <path d="M421,174 C423,171 428,172 431,174 L434,178 C433,182 430,183 428,180 L425,179 C423,184 420,185 418.5,181 Z" fill="#222428"/>
</g>
<g id="pda1">
  <rect x="495.5" y="150" width="24" height="37.5" rx="3" fill="#c8ccd0"/>
  <rect x="495.5" y="150" width="2" height="37" fill="#9a9ea4"/>
  <rect x="498" y="149.5" width="19" height="5" rx="2" fill="#55585e"/>
  <rect x="498.6" y="157" width="18.4" height="23.3" fill="#9cc0e8"/>
  <rect x="498.6" y="157" width="18.4" height="3" fill="#3464b4"/>
  <rect x="500" y="163" width="9" height="1.2" fill="#3a5a9a"/>
  <rect x="500" y="167" width="12" height="1" fill="#5a7ab4"/>
  <rect x="500" y="171" width="10" height="1" fill="#5a7ab4"/>
  <ellipse cx="507" cy="184" rx="8" ry="2.8" fill="#8a8e94"/>
  <circle cx="507" cy="184" r="1.8" fill="#d8dce0"/>
</g>
<g id="pda2">
  <path d="M532,122 L548,121.2 L550.3,126 L550.3,150 L546,153.2 L534,153.2 L530.6,149 L530.6,126 Z" fill="#5e6168"/>
  <path d="M531,143 L550,143 L550.3,150 L546,153.2 L534,153.2 L530.6,149 Z" fill="#8a8c92"/>
  <rect x="534.5" y="130" width="12.5" height="14" fill="#c4ccc8"/>
  <path d="M537,123 L544,122.7 L543,127.5 L538,127.8 Z" fill="#b89850"/>
</g>

<!-- bottom brown bar -->
<path d="M0,470 L460,470 A18,12 0 0 0 478,482.4 L650,482.4 L650,485 L0,485 Z" fill="#cc9571"/>
<!-- TRI logo -->
<g fill="#6b7179">
  <rect x="472.8" y="460.6" width="18.7" height="2.6"/>
  <rect x="482.3" y="460.6" width="3.5" height="16.8"/>
  <rect x="493.3" y="460.6" width="3.4" height="16.8"/>
  <path d="M491.5,460.6 L511,460.6 C515.5,460.6 517.5,462.5 517.5,465 C517.5,467.5 515.5,469.5 511,469.5 L509,469.5 L517.5,477.4 L513.2,477.4 L505,469.5 L496.7,469.5 L496.7,467 L511,467 C513.3,467 514.3,466 514.3,465 C514.3,464 513.3,463.2 511,463.2 L491.5,463.2 Z"/>
  <path d="M520.4,465.3 L523.8,465.3 L523.8,474.5 C523.8,475.5 525,476 528.4,474.5 L528.4,476 C525,478 520.4,478.5 520.4,475 Z"/>
</g>
<rect x="520.2" y="459.5" width="3.8" height="3.8" fill="#e8202a"/>
<!-- left border -->
<rect x="0" y="0" width="1.15" height="485" fill="#000"/>
</svg>

<!-- logo chars -->
<div class="a" style="left:13.5px;top:4.5px;font-size:21px;line-height:21px;color:#fff;font-weight:bold;">拓</div>
<div class="a" style="left:36.5px;top:3px;font-size:24px;line-height:24px;color:#e6262e;font-weight:bold;">墣</div>
<div class="a" style="left:10px;top:26.5px;font-size:25px;line-height:25px;color:#e6262e;font-weight:bold;">產</div>
<div class="a" style="left:37.5px;top:28.5px;font-size:21px;line-height:21px;color:#fff;font-weight:bold;">研</div>
<!-- TRI text -->
<div class="a" style="left:531px;top:459.5px;font-size:12px;line-height:12px;letter-spacing:3.9px;color:#1a1a1a;font-weight:bold;">拓墣產業研究所</div>
<div class="a" style="left:530.3px;top:471.8px;font-size:7px;line-height:7px;color:#333;font-weight:bold;letter-spacing:-0.35px;transform:scaleX(0.985);transform-origin:0 0;">TOPOLOGY RESEARCH INSTITUTE</div>
<!-- labels -->
<div class="lbl" style="left:292px;top:140px;width:86.8px;height:17.7px;"><div style="padding-top:2.7px">個人與區域網路</div></div>
<div class="lbl" style="left:301px;top:217px;width:65px;height:17.5px;"><div style="padding-top:4.5px">接取網路</div></div>
<div class="lbl" style="left:301.1px;top:267px;width:64.4px;height:17.7px;"><div style="padding-top:4.4px">都會網路</div></div>
<div class="lbl" style="left:283px;top:348.7px;width:104px;height:18.6px;"><div style="padding-top:4.2px">長途骨幹網路</div></div>

<!-- title -->
<div class="a" style="left:170.7px;top:22.3px;font-family:'Liberation Serif',serif;font-size:27.6px;letter-spacing:1px;line-height:34px;color:#000;">各級光網路頻寬供需發展階段</div>

<!-- texts -->
<div class="a t12" style="left:87px;top:204.7px;color:#2323d0;letter-spacing:0.4px;"><span class="d">2003</span>數位內容產出能力激增</div>
<div class="a t12" style="left:438.4px;top:204.7px;color:#2323d0;letter-spacing:0.4px;"><span class="d">2003</span>數位內容產出能力激增</div>
<div class="a t12" style="left:164px;top:235.7px;color:#009000;"><span class="d">2001</span>：供需失衡</div>
<div class="a t12" style="left:434px;top:241.2px;color:#009000;"><span class="d">2001</span>：供需失衡</div>
<div class="a t12" style="left:110px;top:318.7px;color:#ff3300;"><span class="d">2004</span>：供需脫節</div>
<div class="a t12" style="left:484px;top:323.2px;color:#ff3300;"><span class="d">2004</span>：供需脫節</div>
<div class="a t12" style="left:151px;top:419.2px;color:#2323d0;"><span class="d">2000</span>頻寬庫存量龐大</div>
<div class="a t12" style="left:420px;top:419.2px;color:#2323d0;"><span class="d">2000</span>頻寬庫存量龐大</div>
<!-- underlines -->
<div class="a" style="left:88px;top:216px;width:146px;height:1px;background:#2323d0"></div>
<div class="a" style="left:439.4px;top:216px;width:145px;height:1px;background:#2323d0"></div>
<div class="a" style="left:165px;top:248px;width:84.5px;height:1px;background:#009000"></div>
<div class="a" style="left:435px;top:252px;width:84px;height:1px;background:#009000"></div>
<div class="a" style="left:111px;top:330px;width:83px;height:1px;background:#ff3300"></div>
<div class="a" style="left:485px;top:334px;width:84px;height:1px;background:#ff3300"></div>
<div class="a" style="left:152px;top:430px;width:108.5px;height:1px;background:#2323d0"></div>
<div class="a" style="left:421px;top:430.5px;width:109px;height:1px;background:#2323d0"></div>

<!-- source -->
<div class="a" style="left:32px;top:445.5px;font-size:15px;line-height:17px;color:#000;">Source</div>
<div class="a" style="left:82.5px;top:445px;font-size:16px;line-height:17px;color:#000;">：拓墣產業研究所，</div>
<div class="a" style="left:229.5px;top:445.5px;font-size:15.6px;line-height:17px;color:#000;">2003/09</div>
<svg width="650" height="485" viewBox="0 0 650 485" style="position:absolute;left:0;top:0;">
<!-- red vertical arrows -->
<g stroke="#ff0000" stroke-width="1">
  <line x1="169.5" y1="160" x2="169.5" y2="393"/>
  <line x1="521.5" y1="150" x2="521.5" y2="393"/>
</g>
<g fill="#ff0000">
  <path d="M169.5,154 L166.3,161 L172.7,161 Z"/>
  <path d="M169.5,399.5 L166.3,392.5 L172.7,392.5 Z"/>
  <path d="M521.5,144.5 L518.3,151.5 L524.7,151.5 Z"/>
  <path d="M521.5,399.5 L518.3,392.5 L524.7,392.5 Z"/>
</g>

<!-- green arrows -->
<g stroke="#008c00" stroke-width="1.1">
  <line x1="278.8" y1="181" x2="176.5" y2="388.5"/>
  <line x1="377.5" y1="177" x2="514" y2="384.5"/>
</g>
<g fill="#008c00">
  <path d="M174,393.5 L174.2,385.5 L180.5,388.6 Z"/>
  <path d="M517,389.5 L510.8,385 L516.6,381.3 Z"/>
</g>

</svg>
</body>
</html>
